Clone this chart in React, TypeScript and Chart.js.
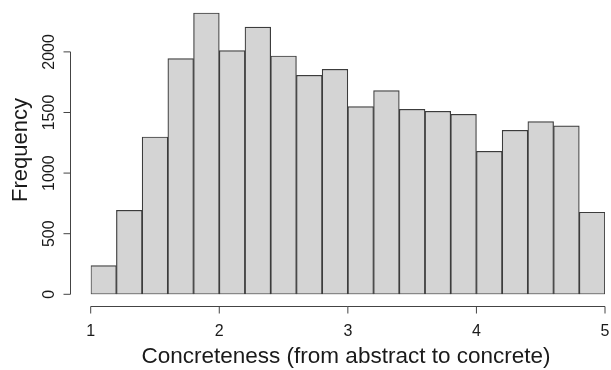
import React, { useEffect, useRef } from "react";
import { Chart, registerables } from "chart.js";

Chart.register(...registerables);

// Histogram bins (width 0.2) – centres on the concreteness scale
const binCenters = [1.1, 1.3, 1.5, 1.7, 1.9, 2.1, 2.3, 2.5, 2.7, 2.9, 3.1, 3.3, 3.5, 3.7, 3.9, 4.1, 4.3, 4.5, 4.7, 4.9];
const frequencies = [236, 693, 1298, 1944, 2321, 2010, 2205, 1966, 1807, 1856, 1548, 1680, 1526, 1510, 1485, 1180, 1353, 1424, 1389, 677];
const xTicks = [1, 2, 3, 4, 5];
const yTicks = [0, 500, 1000, 1500, 2000];
const xTitle = "Concreteness (from abstract to concrete)";
const yTitle = "Frequency";

const FONT = "'Liberation Sans', Arial, Helvetica, sans-serif";

const rAxesPlugin = {
  id: "rAxes",
  afterDraw(chart: any) {
    const { ctx } = chart;
    const xs = chart.scales.x;
    const ys = chart.scales.y;
    ctx.save();
    ctx.strokeStyle = "#444";
    ctx.lineWidth = 1;
    ctx.fillStyle = "#1a1a1a";

    // X axis
    const axY = Math.round(ys.getPixelForValue(0) + 12) + 0.5;
    const x0 = xs.getPixelForValue(xTicks[0]);
    const x1 = xs.getPixelForValue(xTicks[xTicks.length - 1]);
    ctx.beginPath();
    ctx.moveTo(x0, axY);
    ctx.lineTo(x1, axY);
    xTicks.forEach((t) => {
      const px = xs.getPixelForValue(t);
      ctx.moveTo(px, axY);
      ctx.lineTo(px, axY + 7);
    });
    ctx.stroke();
    ctx.font = `16px ${FONT}`;
    ctx.textAlign = "center";
    ctx.textBaseline = "alphabetic";
    xTicks.forEach((t) => {
      ctx.fillText(String(t), xs.getPixelForValue(t), axY + 29);
    });
    ctx.font = `22.5px ${FONT}`;
    ctx.fillText(xTitle, 346, 363);

    // Y axis
    const axX = Math.round(xs.left - 21) + 0.5;
    const y0 = ys.getPixelForValue(yTicks[0]);
    const y1 = ys.getPixelForValue(yTicks[yTicks.length - 1]);
    ctx.beginPath();
    ctx.moveTo(axX, y0);
    ctx.lineTo(axX, y1);
    yTicks.forEach((t) => {
      const py = ys.getPixelForValue(t);
      ctx.moveTo(axX, py);
      ctx.lineTo(axX - 7, py);
    });
    ctx.stroke();
    ctx.font = `16px ${FONT}`;
    yTicks.forEach((t) => {
      const py = ys.getPixelForValue(t);
      ctx.save();
      ctx.translate(axX - 16.5, py);
      ctx.rotate(-Math.PI / 2);
      ctx.textAlign = "center";
      ctx.fillText(String(t), 0, 0);
      ctx.restore();
    });
    ctx.save();
    ctx.font = `22px ${FONT}`;
    ctx.translate(27, 150);
    ctx.rotate(-Math.PI / 2);
    ctx.textAlign = "center";
    ctx.fillText(yTitle, 0, 0);
    ctx.restore();

    ctx.restore();
  },
};

export default function App() {
  const canvasRef = useRef<HTMLCanvasElement | null>(null);

  useEffect(() => {
    if (!canvasRef.current) return;
    const chart = new Chart(canvasRef.current, {
      type: "bar",
      data: {
        datasets: [
          {
            data: binCenters.map((c, i) => ({ x: c, y: frequencies[i] })),
            backgroundColor: "#d4d4d4",
            borderColor: "#3c3c3c",
            borderWidth: 1.2,
            borderSkipped: false,
            barPercentage: 1,
            categoryPercentage: 1,
          },
        ],
      },
      options: {
        animation: false,
        responsive: false,
        maintainAspectRatio: false,
        devicePixelRatio: 1,
        layout: { padding: { left: 90.7, right: 6, top: 3.4, bottom: 75.7 } },
        plugins: { legend: { display: false }, tooltip: { enabled: false } },
        scales: {
          x: {
            type: "linear",
            min: 1,
            max: 5,
            offset: false,
            display: false,
            ticks: { stepSize: 1 },
          },
          y: {
            type: "linear",
            min: 0,
            max: 2400,
            display: false,
          },
        },
      },
      plugins: [rAxesPlugin],
    });
    return () => chart.destroy();
  }, []);

  return (
    <div style={{ position: "fixed", left: 0, top: 0, width: 611, height: 370, background: "#fff" }}>
      <canvas ref={canvasRef} width={611} height={370} style={{ width: 611, height: 370, display: "block" }} />
    </div>
  );
}
